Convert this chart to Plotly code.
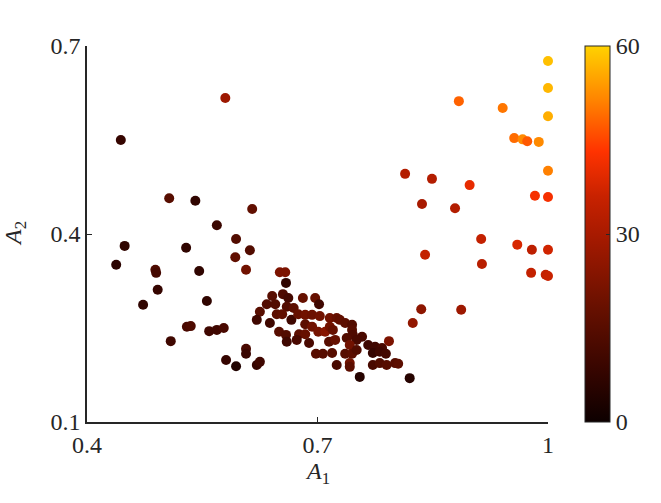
import plotly.graph_objects as go

# A1 / A2 coordinates and colour value (0-60) for each point
a1 = [0.444, 0.580, 0.507, 0.541, 0.615, 0.569, 0.594, 0.449, 0.529, 0.438,
      0.489, 0.490, 0.546, 0.593, 0.612, 0.607, 0.492, 0.473, 0.556, 0.530,
      0.535, 0.559, 0.569, 0.578, 0.509, 0.607, 0.607, 0.581, 0.594, 0.621,
      0.625,
      0.651, 0.658, 0.659, 0.641, 0.655, 0.662, 0.681, 0.697, 0.702, 0.634,
      0.645, 0.660, 0.669, 0.625, 0.621, 0.638, 0.647, 0.654, 0.666, 0.675,
      0.684, 0.693, 0.703, 0.716, 0.725, 0.729, 0.736, 0.745, 0.684, 0.693,
      0.701, 0.710, 0.716, 0.720, 0.745, 0.746, 0.758, 0.650, 0.659, 0.676,
      0.684, 0.660, 0.673, 0.689, 0.715, 0.723, 0.738, 0.751, 0.742, 0.766,
      0.775, 0.784, 0.793, 0.772, 0.781, 0.789, 0.698, 0.707, 0.719, 0.736,
      0.745, 0.751, 0.725, 0.742, 0.742, 0.772, 0.781, 0.790, 0.801, 0.805,
      0.755, 0.820,
      0.840, 0.835, 0.824, 0.887, 1.000, 1.000, 1.000, 0.884, 0.941, 0.956,
      0.967, 0.973, 0.988, 1.000, 0.814, 0.849, 0.898, 0.836, 0.879, 0.983,
      1.000, 0.913, 0.960, 0.979, 1.000, 0.914, 0.978, 0.997, 1.000]

a2 = [0.550, 0.617, 0.457, 0.453, 0.440, 0.414, 0.392, 0.381, 0.378, 0.351,
      0.343, 0.338, 0.341, 0.363, 0.374, 0.343, 0.311, 0.287, 0.293, 0.252,
      0.253, 0.245, 0.247, 0.250, 0.229, 0.217, 0.209, 0.199, 0.189, 0.191,
      0.196,
      0.339, 0.339, 0.322, 0.301, 0.304, 0.298, 0.298, 0.298, 0.288, 0.288,
      0.288, 0.284, 0.282, 0.276, 0.263, 0.258, 0.272, 0.272, 0.263, 0.272,
      0.271, 0.271, 0.269, 0.266, 0.266, 0.263, 0.258, 0.255, 0.256, 0.252,
      0.244, 0.244, 0.252, 0.247, 0.247, 0.239, 0.236, 0.244, 0.239, 0.240,
      0.240, 0.228, 0.231, 0.226, 0.228, 0.231, 0.234, 0.231, 0.223, 0.223,
      0.220, 0.218, 0.229, 0.210, 0.212, 0.209, 0.209, 0.209, 0.210, 0.209,
      0.209, 0.215, 0.191, 0.194, 0.188, 0.191, 0.194, 0.191, 0.194, 0.193,
      0.172, 0.170,
      0.367, 0.280, 0.258, 0.279, 0.676, 0.633, 0.588, 0.612, 0.601, 0.553,
      0.551, 0.548, 0.547, 0.501, 0.496, 0.488, 0.478, 0.448, 0.441, 0.461,
      0.459, 0.392, 0.383, 0.375, 0.375, 0.352, 0.338, 0.335, 0.333]

cval = [8, 28, 15, 7, 17, 9, 14, 7, 7, 6,
        13, 11, 7, 17, 14, 20, 8, 7, 7, 12,
        13, 10, 10, 12, 10, 12, 9, 8, 4, 8,
        10,
        22, 22, 7, 15, 13, 11, 18, 18, 10, 14,
        14, 14, 16, 15, 10, 10, 16, 17, 10, 18,
        20, 19, 20, 20, 18, 17, 16, 14, 16, 20,
        21, 24, 20, 18, 15, 13, 12, 15, 14, 16,
        18, 10, 12, 12, 15, 18, 14, 12, 20, 10,
        10, 12, 22, 8, 10, 11, 15, 15, 15, 15,
        16, 14, 12, 20, 16, 12, 14, 15, 15, 16,
        5, 5,
        35, 25, 26, 28, 58, 57, 56, 48, 50, 49,
        52, 47, 52, 51, 32, 32, 40, 30, 32, 42,
        42, 35, 38, 34, 37, 33, 35, 35, 36]

hot_scale = [[0.0, "#0d0000"], [0.15, "#3a0600"], [0.3, "#661000"],
             [0.5, "#a81a00"], [0.6, "#c82200"], [0.72, "#ff3300"],
             [0.86, "#ff8600"], [1.0, "#ffd200"]]

axis_col = "#262626"
font_fam = "Liberation Serif"

fig = go.Figure()
fig.add_trace(go.Scatter(
    x=a1, y=a2, mode="markers", showlegend=False, cliponaxis=False,
    marker=dict(size=10, color=cval, colorscale=hot_scale, cmin=0, cmax=60,
                line=dict(width=0),
                colorbar=dict(
                    tickvals=[0, 30, 60], ticktext=["0", "30", "60"],
                    ticks="inside", ticklen=4, tickcolor=axis_col,
                    thickness=25, len=1, lenmode="fraction",
                    x=1.08, xanchor="left", xpad=0, y=0.5, ypad=0,
                    outlinewidth=1, outlinecolor=axis_col,
                    tickfont=dict(family=font_fam, size=24, color=axis_col),
                )),
))

# axis titles as annotations so they can sit exactly where the reference has them
fig.add_annotation(text="<i>A</i><sub>1</sub>", x=0.5, y=0, xref="paper", yref="paper",
                   xanchor="center", yanchor="top", yshift=-34, showarrow=False,
                   font=dict(family=font_fam, size=24, color=axis_col))
fig.add_annotation(text="<i>A</i><sub>2</sub>", x=0, y=0.5, xref="paper", yref="paper",
                   xanchor="right", yanchor="middle", xshift=-55, textangle=-90,
                   showarrow=False, font=dict(family=font_fam, size=24, color=axis_col))

fig.update_layout(
    width=661, height=503,
    margin=dict(l=87, r=113, t=46, b=81),
    plot_bgcolor="white", paper_bgcolor="white",
    font=dict(family=font_fam, size=24, color=axis_col),
    xaxis=dict(range=[0.4, 1.0], tickvals=[0.4, 0.7, 1.0], ticktext=["0.4", "0.7", "1"],
               showgrid=False, zeroline=False, showline=True, linecolor=axis_col,
               linewidth=1.5, ticks="inside", ticklen=5, tickcolor=axis_col,
               automargin=False),
    yaxis=dict(range=[0.1, 0.7], tickvals=[0.1, 0.4, 0.7], ticktext=["0.1", "0.4", "0.7"],
               showgrid=False, zeroline=False, showline=True, linecolor=axis_col,
               linewidth=1.5, ticks="inside", ticklen=5, tickcolor=axis_col,
               automargin=False),
)

# drop the default 8px body margin so the figure fills the window
fig.write_html("out.html", config={"displayModeBar": False},
               post_script="document.body.style.margin='0';")
